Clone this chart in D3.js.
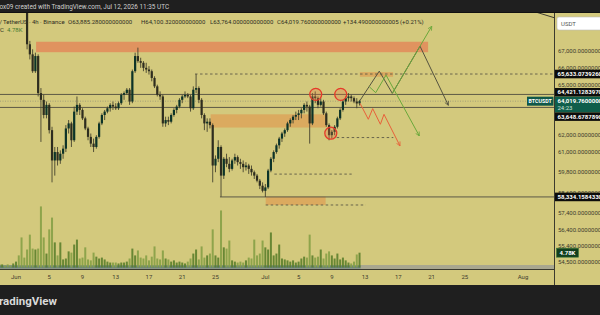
<!DOCTYPE html>
<html>
<head>
<meta charset="utf-8">
<script src="https://cdn.jsdelivr.net/npm/d3@7"></script>
<style>
  body { margin: 0; background: #1f1f1f; overflow: hidden; }
  svg { display: block; font-family: Roboto, "Liberation Sans", sans-serif; }
  .axis-label { font-size: 6px; fill: #3d3b2e; }
  .tag-text { font-size: 6px; fill: #fff; }
  .legend { font-size: 6px; fill: #2e2d22; }
</style>
</head>
<body>
<script>
// ---- data ----
var firstBar = "2026-05-30T00:00:00Z";   // 8h bars from here on
var barHours = 8;

// [open, high, low, close]
var candles = [
  [70300,70700,70100,70500],[70500,70900,70300,70800],[70800,71100,70400,70600],[70600,70800,70200,70400],[70400,70600,69900,70100],
  [70100,70500,69900,70300],[70300,70900,70200,70700],[70700,71000,70400,70500],[70500,70600,69900,70000],[70000,70300,69600,69800],
  [69800,69900,67100,67400],[67400,67600,66500,66800],[66800,67100,65700,65800],[65800,66900,65700,66700],[66700,66800,64300,64500],
  [64500,64800,61600,64100],[64100,64400,63000,63200],[63200,64000,63000,63800],[63800,63900,62100,62300],[62300,62500,59200,60500],
  [60500,61300,59600,61000],[61000,61300,60200,60500],[60500,61100,60300,60900],[60900,61400,60600,61200],[61200,62600,61000,62400],
  [62400,62900,62100,62700],[62700,62800,61300,61700],[61700,63700,61600,63400],[63400,64300,63200,63800],[63800,63900,63200,63500],
  [63500,63600,62900,63000],[63000,63100,62300,62400],[62400,62500,61700,61900],[61900,62100,61300,61500],[61500,61800,61000,61300],
  [61300,62000,61200,61900],[61900,62800,61800,62700],[62700,63300,62600,63200],[63200,63500,62900,63400],[63400,63700,63300,63600],
  [63600,63900,63400,63800],[63800,64000,63500,63700],[63700,63900,63500,63600],[63600,64000,63500,63900],[63900,64500,63800,64400],
  [64400,64600,64100,64500],[64500,64800,64400,64700],[64700,64800,63800,64000],[64000,65900,63900,65800],[65800,66900,65700,66700],
  [66700,67200,66300,66400],[66400,66600,66000,66300],[66300,66400,65800,66000],[66000,66300,65700,65900],[65900,66100,65600,65800],
  [65800,65900,65200,65400],[65400,65500,64800,64900],[64900,65000,64300,64400],[64400,64600,64100,64300],[64300,64400,62500,62700],
  [62700,63100,62500,62900],[62900,63100,62600,62800],[62800,63300,62700,63200],[63200,63600,63100,63500],[63500,63800,63300,63700],
  [63700,64200,63600,64100],[64100,64400,63900,64300],[64300,64600,64200,64400],[64400,64500,64200,64300],[64300,64400,63400,63600],
  [63600,64900,63500,64700],[64700,65630,64500,64800],[64800,64900,63900,64100],[64100,64200,63000,63200],[63200,63300,62300,62700],
  [62700,63000,62200,62800],[62800,63000,62400,62600],[62600,62700,59200,60200],[60200,60800,59800,60600],[60600,61700,60400,61300],
  [61300,61400,58340,59600],[59600,60700,59400,60600],[60600,60900,60100,60300],[60300,60700,59800,60000],[60000,60600,59900,60500],
  [60500,60900,60300,60700],[60700,60800,60200,60400],[60400,60600,60000,60300],[60300,60500,59800,60100],[60100,60400,59900,60200],
  [60200,60300,59700,60000],[60000,60200,59600,59800],[59800,59900,59400,59600],[59600,59700,59200,59300],[59300,59400,58800,59000],
  [59000,59200,58600,58700],[58700,59100,58330,58900],[58900,60000,58800,59900],[59900,60700,59800,60600],[60600,61100,60400,61000],
  [61000,61500,60900,61400],[61400,61900,61200,61800],[61800,62200,61600,62100],[62100,62400,61900,62300],[62300,62800,62200,62700],
  [62700,63000,62500,62900],[62900,63200,62700,63100],[63100,63400,62900,63200],[63200,63500,62900,63300],[63300,63600,63000,63500],
  [63500,63900,63300,63800],[63800,64000,63400,63700],[63700,63800,61500,62700],[62700,64500,62600,64300],[64300,64600,63900,64200],
  [64200,64300,63600,63800],[63800,64200,63700,64000],[64000,64100,63200,63300],[63300,63400,62500,62600],[62600,62700,61700,62000],
  [62000,62300,61800,62200],[62200,62600,62000,62500],[62500,63100,62400,63000],[63000,63600,62900,63500],[63500,64100,63400,64000],
  [64000,64300,63800,64200],[64200,64500,64000,64300],[64300,64400,64000,64200],[64200,64300,63900,64000],[64000,64200,63600,63885.28],
  [63885.28,64100.32,63764,64019.76]
];

// volume, thousands of BTC
var volumes = [
  1.0,1.0,0.6,1.0,0.6,1.3,1.9,3.9,9.7,3.2,
  5.8,10.6,6.1,5.8,6.1,19.7,9.7,4.5,12.3,16.1,
  8.1,3.9,8.1,2.6,2.9,5.2,4.8,7.4,9.0,2.9,
  3.2,6.5,2.6,2.3,4.8,3.5,2.9,3.2,2.6,1.9,
  1.6,1.6,1.6,1.3,1.6,1.6,1.9,2.9,6.1,3.9,
  5.5,3.2,2.9,3.9,2.3,3.5,6.8,2.9,2.6,5.5,
  2.9,2.6,1.9,2.3,1.6,1.9,1.6,1.3,1.9,2.9,
  4.5,5.8,2.6,6.8,3.2,3.9,4.5,12.3,3.9,3.2,
  18.4,6.5,6.1,8.7,2.3,1.9,1.6,1.9,1.6,2.3,
  3.2,2.9,9.0,3.9,4.5,8.7,6.5,5.8,11.3,3.9,
  4.5,7.4,2.9,2.6,2.3,1.9,2.3,1.6,1.9,2.9,
  3.5,3.2,10.6,3.9,3.2,3.5,5.8,2.9,4.5,5.2,
  3.9,2.9,4.5,2.6,3.2,2.3,1.6,1.3,1.9,4.2,
  4.78
];

var timeTicks = ["2026-06-01","2026-06-05","2026-06-09","2026-06-13","2026-06-17","2026-06-21","2026-06-25",
                 "2026-07-01","2026-07-05","2026-07-09","2026-07-13","2026-07-17","2026-07-21","2026-07-25","2026-08-01"];
var timeLabels = ["Jun","5","9","13","17","21","25","Jul","5","9","13","17","21","25","Aug"];

var priceTicks = [67000, 66000, 65000, 62000, 61000, 59800, 58600, 57400, 56400, 55400, 54500];

var lastPrice = 64019.76;
var countdown = "24:23";
var lastVolume = "4.78K";
var tagPrices = [65633.073926, 64421.128397, 63648.678789, 58334.158433];

// [price, from, to] (null = to the right edge)
var solidLines = [[64421.128397, null, null], [63648.678789, null, null], [58334.158433, "2026-06-25T13:00Z", null]];
var dashedLines = [
  [65633.073926, "2026-06-22T13:00Z", null],
  [61860, "2026-07-09T14:00Z", "2026-07-16T09:30Z"],
  [59690, "2026-07-02T02:00Z", "2026-07-11T09:20Z"],
  [57855, "2026-07-01T01:00Z", "2026-07-13T02:00Z"]
];

// zones [low, high, from, to]
var supplyZone = [66930, 67550, "2026-06-03T10:00Z", "2026-07-20T14:00Z"];
var boxes = [
  [62455, 63240, "2026-06-24T10:00Z", "2026-07-08T09:00Z"],
  [57855, 58345, "2026-07-01T01:00Z", "2026-07-08T06:00Z"],
  [65470, 65745, "2026-07-12T09:00Z", "2026-07-16T08:40Z"]
];

var circles = [["2026-07-07T01:30Z", 64425], ["2026-07-08T21:00Z", 62120], ["2026-07-10T01:40Z", 64425]];

var pathGray = [["2026-07-12T08:00Z",64019.76],["2026-07-14T17:00Z",65805],["2026-07-16T06:40Z",64485],["2026-07-19T14:40Z",67285],["2026-07-23T00:30Z",63775]];
var pathGreenA = [["2026-07-13T12:00Z",64880],["2026-07-14T06:40Z",64525],["2026-07-15T12:30Z",65570],["2026-07-19T12:40Z",61955]];
var pathGreenB = [["2026-07-16T06:40Z",64485],["2026-07-21T00:30Z",68470]];
var pathRed = [["2026-07-12T09:30Z",63890],["2026-07-13T09:20Z",62945],["2026-07-13T22:00Z",63580],["2026-07-14T20:10Z",62650],["2026-07-15T06:40Z",63240],["2026-07-17T04:50Z",61365]];
var trendTop = [["2026-07-31T00:00Z",69700],["2026-08-04T20:00Z",68965]];

// ---- layout ----
var bg = "#d3c97d", dark = "#1f1f1f";
var plotRight = 554, plotTop = 13, plotBottom = 269.5;

var x = d3.scaleUtc()
  .domain([new Date("2026-06-01T00:00:00Z"), new Date("2026-08-01T00:00:00Z")])
  .range([16, 523]);
var y = d3.scaleLinear().domain([56400, 67000]).range([229.5, 51]);
var yVol = d3.scaleLinear().domain([0, 20]).range([267.5, 205.5]);

var t0 = new Date(firstBar).getTime();
function barTime(i) { return new Date(t0 + i * barHours * 3600e3); }
function T(s) { return new Date(s); }

var svg = d3.select("body").append("svg").attr("width", 600).attr("height", 315);
svg.append("rect").attr("width", 600).attr("height", 315).attr("fill", dark);
svg.append("rect").attr("y", plotTop).attr("width", 600).attr("height", 285 - plotTop).attr("fill", bg);

var defs = svg.append("defs");
defs.append("clipPath").attr("id", "plot")
  .append("rect").attr("x", 0).attr("y", plotTop).attr("width", plotRight).attr("height", plotBottom - plotTop);

function arrow(id, color) {
  defs.append("marker").attr("id", id)
    .attr("viewBox", "0 0 10 10").attr("refX", 9).attr("refY", 5)
    .attr("markerWidth", 5).attr("markerHeight", 5).attr("orient", "auto")
    .append("path").attr("d", "M1,1 L9,5 L1,9")
    .attr("fill", "none").attr("stroke", color).attr("stroke-width", 1.5);
}
arrow("ar-gray", "#55533f");
arrow("ar-green", "#6aa83a");
arrow("ar-red", "#e8603a");

var plot = svg.append("g").attr("clip-path", "url(#plot)");

// zones
plot.append("rect")
  .attr("x", x(T(supplyZone[2]))).attr("y", y(supplyZone[1]))
  .attr("width", x(T(supplyZone[3])) - x(T(supplyZone[2])))
  .attr("height", y(supplyZone[0]) - y(supplyZone[1]))
  .attr("fill", "#e0935f");

plot.selectAll(".box").data(boxes).enter().append("rect")
  .attr("x", function(d) { return x(T(d[2])); })
  .attr("y", function(d) { return y(d[1]); })
  .attr("width", function(d) { return x(T(d[3])) - x(T(d[2])); })
  .attr("height", function(d) { return y(d[0]) - y(d[1]); })
  .attr("fill", "#dba65c").attr("opacity", 0.9);

// volume
plot.append("rect").attr("x", 0).attr("y", 265).attr("width", plotRight).attr("height", 4).attr("fill", "#a9a78f");
plot.append("rect").attr("x", 0).attr("y", 265.5).attr("width", x(barTime(volumes.length - 1)) + 1).attr("height", 3)
  .attr("fill", "#5a7b7c").attr("opacity", 0.8);

plot.selectAll(".vol").data(volumes).enter().append("rect")
  .attr("x", function(d, i) { return x(barTime(i)) - 1; })
  .attr("y", function(d) { return yVol(d); })
  .attr("width", 2)
  .attr("height", function(d) { return yVol(0) - yVol(d); })
  .attr("fill", function(d, i) { return candles[i][3] >= candles[i][0] ? "#5c7f2c" : "#86a046"; })
  .attr("opacity", 0.9);

// horizontal levels
function lineX1(d) { return d[1] ? x(T(d[1])) : 0; }
function lineX2(d) { return d[2] ? x(T(d[2])) : plotRight; }

plot.selectAll(".solid").data(solidLines).enter().append("line")
  .attr("x1", lineX1).attr("x2", lineX2)
  .attr("y1", function(d) { return y(d[0]); }).attr("y2", function(d) { return y(d[0]); })
  .attr("stroke", "#5c5946").attr("stroke-width", 1);

plot.selectAll(".dashed").data(dashedLines).enter().append("line")
  .attr("x1", lineX1).attr("x2", lineX2)
  .attr("y1", function(d) { return y(d[0]); }).attr("y2", function(d) { return y(d[0]); })
  .attr("stroke", "#5c5946").attr("stroke-width", 0.9).attr("stroke-dasharray", "2.5,2.5");

plot.append("line")
  .attr("x1", 0).attr("x2", plotRight)
  .attr("y1", y(lastPrice)).attr("y2", y(lastPrice))
  .attr("stroke", "#97947a").attr("stroke-width", 0.8).attr("stroke-dasharray", "1,1.5");

// candles
var bars = plot.selectAll(".bar").data(candles).enter().append("g");
bars.append("line")
  .attr("x1", function(d, i) { return x(barTime(i)); })
  .attr("x2", function(d, i) { return x(barTime(i)); })
  .attr("y1", function(d) { return y(d[1]); })
  .attr("y2", function(d) { return y(d[2]); })
  .attr("stroke", "#45432f").attr("stroke-width", 0.9);
bars.append("rect")
  .attr("x", function(d, i) { return x(barTime(i)) - 1.1; })
  .attr("y", function(d) { return y(Math.max(d[0], d[3])); })
  .attr("width", 2.2)
  .attr("height", function(d) { return Math.max(0.8, Math.abs(y(d[0]) - y(d[3]))); })
  .attr("fill", function(d) { return d[3] >= d[0] ? "#0c3328" : "#2e2d1f"; });

// circles
plot.selectAll(".circ").data(circles).enter().append("circle")
  .attr("cx", function(d) { return x(T(d[0])); })
  .attr("cy", function(d) { return y(d[1]); })
  .attr("r", 6)
  .attr("fill", "#e07a45").attr("fill-opacity", 0.3)
  .attr("stroke", "#e53a2a").attr("stroke-width", 1.3);

// projections
var line = d3.line()
  .x(function(d) { return x(T(d[0])); })
  .y(function(d) { return y(d[1]); });

plot.append("path").attr("d", line(trendTop)).attr("fill", "none").attr("stroke", "#3e3c2e").attr("stroke-width", 1);
plot.append("path").attr("d", line(pathGray)).attr("fill", "none")
  .attr("stroke", "#55533f").attr("stroke-width", 1).attr("marker-end", "url(#ar-gray)");
plot.append("path").attr("d", line(pathGreenA)).attr("fill", "none")
  .attr("stroke", "#6aa83a").attr("stroke-width", 1).attr("marker-end", "url(#ar-green)");
plot.append("path").attr("d", line(pathGreenB)).attr("fill", "none")
  .attr("stroke", "#6aa83a").attr("stroke-width", 1).attr("marker-end", "url(#ar-green)");
plot.append("path").attr("d", line(pathRed)).attr("fill", "none")
  .attr("stroke", "#e8603a").attr("stroke-width", 1).attr("marker-end", "url(#ar-red)");

// symbol tag on the last price line
svg.append("rect").attr("x", 527).attr("y", y(lastPrice) - 4.5).attr("width", 26.5).attr("height", 9)
  .attr("fill", "#10584a");
svg.append("text").attr("x", 540.2).attr("y", y(lastPrice) + 2.1)
  .attr("text-anchor", "middle").attr("class", "tag-text").style("font-size", "5.3px").style("font-weight", "bold")
  .text("BTCUSDT");

// separators
svg.append("line").attr("x1", 0).attr("x2", 600).attr("y1", 12.5).attr("y2", 12.5).attr("stroke", "#111");
svg.append("line").attr("x1", 0).attr("x2", plotRight).attr("y1", plotBottom).attr("y2", plotBottom)
  .attr("stroke", "#3b3a2e").attr("stroke-width", 1);
svg.append("line").attr("x1", plotRight + 0.5).attr("x2", plotRight + 0.5).attr("y1", plotTop).attr("y2", 285)
  .attr("stroke", "#3b3a2e").attr("stroke-width", 1);

// price axis
var fmt = d3.format(",.10f");
svg.selectAll(".ptick").data(priceTicks).enter().append("text")
  .attr("class", "axis-label")
  .attr("x", 558).attr("y", function(d) { return y(d) + 2.1; })
  .text(function(d) { return fmt(d); });

// volume tag
svg.append("rect").attr("x", 556.5).attr("y", yVol(4.78) - 4.5).attr("width", 22).attr("height", 9)
  .attr("fill", "#123f1e").attr("stroke", "#3f7a3a").attr("stroke-width", 0.6);
svg.append("text").attr("class", "tag-text").attr("x", 567.5).attr("y", yVol(4.78) + 2.1)
  .attr("text-anchor", "middle").style("font-weight", "bold").text(lastVolume);

// price tags, pushed off the last-price tag
var lastY = y(lastPrice), greenTop = lastY - 4.5, greenBottom = lastY + 11;
var tagData = tagPrices.map(function(p) {
  var c = y(p);
  if (c < lastY) c = Math.min(c, greenTop - 4.4);
  else c = Math.max(c, greenBottom + 4.4);
  return [p, c];
});
var tags = svg.selectAll(".tag").data(tagData).enter().append("g");
tags.append("rect").attr("x", 555).attr("y", function(d) { return d[1] - 4.3; })
  .attr("width", 45).attr("height", 8.6).attr("fill", "#0d0d0b");
tags.append("text").attr("class", "tag-text").style("font-weight", "bold")
  .attr("x", 557.5).attr("y", function(d) { return d[1] + 2.1; })
  .text(function(d) { return d3.format(",.7f")(d[0]); });

svg.append("rect").attr("x", 555).attr("y", greenTop).attr("width", 45).attr("height", greenBottom - greenTop)
  .attr("fill", "#0f5e4b");
svg.append("text").attr("class", "tag-text").style("font-weight", "bold")
  .attr("x", 557.5).attr("y", lastY + 2.1).text(d3.format(",.7f")(lastPrice));
svg.append("text").attr("class", "tag-text").style("fill", "#cfe3d8")
  .attr("x", 557.5).attr("y", lastY + 8.8).text(countdown);

// currency box
svg.append("rect").attr("x", 557).attr("y", 17).attr("width", 50).attr("height", 13).attr("rx", 2)
  .attr("fill", "#fff").attr("stroke", "#bdbdbd").attr("stroke-width", 0.6);
svg.append("text").attr("x", 561).attr("y", 25.8).style("font-size", "6px").style("fill", "#555").text("USDT");

// time axis
svg.selectAll(".ttick").data(timeTicks).enter().append("text")
  .attr("class", "axis-label").attr("text-anchor", "middle")
  .attr("x", function(d) { return x(new Date(d + "T00:00:00Z")); })
  .attr("y", 278.8)
  .text(function(d, i) { return timeLabels[i]; });

// header & legend
svg.append("text").attr("x", -0.5).attr("y", 9).style("font-size", "6.4px").style("fill", "#cfcfcf")
  .text("ox09 created with TradingView.com, Jul 12, 2026 11:35 UTC");

svg.append("text").attr("class", "legend").attr("x", 2).attr("y", 23.8).attr("text-anchor", "end").text("Bitcoin /");
svg.append("text").attr("class", "legend").attr("x", 3).attr("y", 23.8).text("TetherUS \u00b7 4h \u00b7 Binance");
var ohlc = [["O", "63,885.280000000000", 68], ["H", "64,100.320000000000", 141], ["L", "63,764.000000000000", 210],
            ["C", "64,019.760000000000", 277], ["", "+134.490000000005 (+0.21%)", 343]];
svg.selectAll(".ohlc").data(ohlc).enter().append("text")
  .attr("class", "legend").attr("x", function(d) { return d[2]; }).attr("y", 23.8)
  .text(function(d) { return d[0] + d[1]; });
svg.append("text").attr("class", "legend").attr("x", 4).attr("y", 31.8).attr("text-anchor", "end").text("Vol \u00b7 BTC");
svg.append("text").attr("class", "legend").attr("x", 7).attr("y", 31.8).style("fill", "#3f7a30").text(lastVolume);

// logo
svg.append("text").attr("x", 57).attr("y", 304.5).attr("text-anchor", "end")
  .style("font-size", "11.5px").style("font-weight", "bold").style("fill", "#dadada")
  .text("TradingView");
</script>
</body>
</html>
